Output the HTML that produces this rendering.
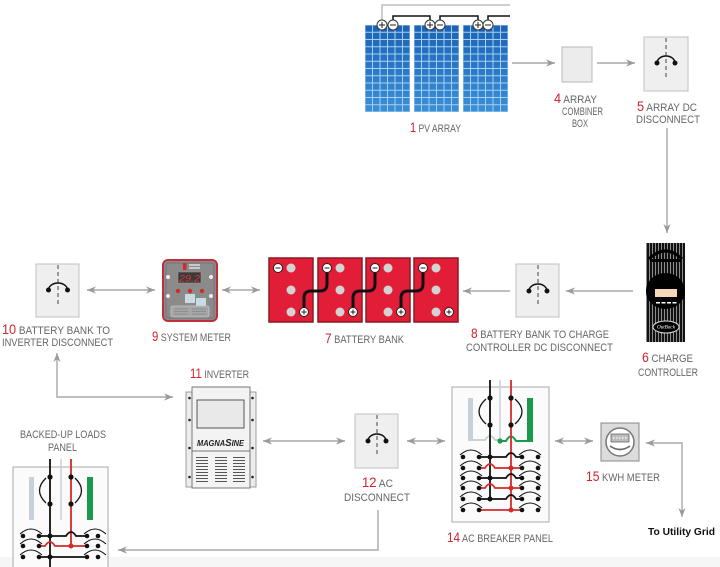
<!DOCTYPE html>
<html><head><meta charset="utf-8"><style>
html,body{margin:0;padding:0;background:#fff;}
svg{display:block;}
.l{font-family:"Liberation Sans",sans-serif;font-size:11px;fill:#666;}
.n{font-size:14px;fill:#d2232a;}
.ar{fill:none;stroke:#a8a8a8;stroke-width:1.4;}
</style></head><body>
<svg width="720" height="567" viewBox="0 0 720 567" xmlns="http://www.w3.org/2000/svg">
<defs>
<marker id="ah" viewBox="0 0 10 10" refX="10" refY="5" markerWidth="9" markerHeight="9" markerUnits="userSpaceOnUse" orient="auto-start-reverse"><path d="M0,1 L10,5 L0,9 L3,5 z" fill="#9a9a9a"/></marker>
<linearGradient id="pvg" x1="0" y1="0" x2="0" y2="1"><stop offset="0" stop-color="#1a62b6"/><stop offset="1" stop-color="#3a8fd8"/></linearGradient>
<pattern id="cell" width="7.5" height="7.25" patternUnits="userSpaceOnUse"><rect width="7.5" height="7.25" fill="none" stroke="#a9d0f2" stroke-width="1"/></pattern>
<pattern id="strp" width="3" height="10" patternUnits="userSpaceOnUse"><line x1="1.5" y1="0" x2="1.5" y2="10" stroke="#9a9a9a" stroke-width="0.9"/></pattern>
<pattern id="vent" width="20" height="3" patternUnits="userSpaceOnUse"><line x1="0" y1="1.5" x2="20" y2="1.5" stroke="#555" stroke-width="1"/></pattern>
</defs>
<rect width="720" height="567" fill="#fff"/>
<rect x="0" y="557" width="720" height="10" fill="#f6f6f6"/>

<!-- PV ARRAY -->
<path d="M382,20 V5 H510" fill="none" stroke="#bdbdbd" stroke-width="1.5"/>
<path d="M393,20 V16 H430 V20 M440,20 V16 H478 V20 M488,20 V16 H510" fill="none" stroke="#111" stroke-width="1.5"/>
<g transform="translate(365,25)"><rect width="45" height="87" fill="url(#pvg)"/><rect width="45" height="87" fill="url(#cell)"/></g>
<g transform="translate(414,25)"><rect width="45" height="87" fill="url(#pvg)"/><rect width="45" height="87" fill="url(#cell)"/></g>
<g transform="translate(463,25)"><rect width="45" height="87" fill="url(#pvg)"/><rect width="45" height="87" fill="url(#cell)"/></g>
<g fill="#fff" stroke="#333" stroke-width="1">
<circle cx="382" cy="25" r="5"/><circle cx="393" cy="25" r="5"/>
<circle cx="430" cy="25" r="5"/><circle cx="440" cy="25" r="5"/>
<circle cx="478" cy="25" r="5"/><circle cx="488" cy="25" r="5"/>
</g>
<path d="M379,25 H385 M382,22 V28 M390,25 H396 M427,25 H433 M430,22 V28 M437,25 H443 M475,25 H481 M478,22 V28 M485,25 H491" stroke="#222" stroke-width="1"/>
<text class="l" x="410" y="132" textLength="51" lengthAdjust="spacingAndGlyphs"><tspan class="n">1</tspan> PV ARRAY</text>

<!-- combiner -->
<rect x="562" y="47" width="30" height="35" fill="#ececec" stroke="#b8b8b8"/>
<text class="l" x="554" y="103" textLength="43" lengthAdjust="spacingAndGlyphs"><tspan class="n">4</tspan> ARRAY</text>
<text class="l" x="562" y="115" textLength="41" lengthAdjust="spacingAndGlyphs">COMBINER</text>
<text class="l" x="572" y="127" textLength="16" lengthAdjust="spacingAndGlyphs">BOX</text>

<!-- disconnect 5 -->
<rect x="644" y="37" width="44" height="54" fill="#efefef" stroke="#c0c0c0"/>
<line x1="666" y1="38" x2="666" y2="80" stroke="#444" stroke-width="1" stroke-dasharray="4,3"/>
<path d="M657,63 A9,7 0 0 1 675,63" fill="none" stroke="#111" stroke-width="1.5"/>
<circle cx="657" cy="63" r="2.5" fill="#111"/><circle cx="675" cy="63" r="2.5" fill="#111"/>
<text class="l" x="637" y="111" textLength="60" lengthAdjust="spacingAndGlyphs"><tspan class="n">5</tspan> ARRAY DC</text>
<text class="l" x="636" y="123" textLength="64" lengthAdjust="spacingAndGlyphs">DISCONNECT</text>

<!-- charge controller -->
<rect x="646" y="243" width="39" height="99" fill="#111"/>
<rect x="646" y="243" width="39" height="99" fill="url(#strp)"/>
<path d="M649,259 Q665.5,243 682,259" fill="none" stroke="#000" stroke-width="3"/>
<rect x="650" y="259" width="31" height="3" fill="#000"/>
<ellipse cx="665.5" cy="291" rx="19.5" ry="18" fill="#000"/>
<rect x="655" y="289" width="22" height="8" fill="#f6d7ba"/>
<g fill="#fff"><rect x="656" y="302" width="4" height="1.5"/><rect x="661.5" y="302" width="4" height="1.5"/><rect x="667" y="302" width="4" height="1.5"/><rect x="672.5" y="302" width="4" height="1.5"/></g>
<ellipse cx="666" cy="327" rx="13" ry="6" fill="#000" stroke="#ddd" stroke-width="1"/>
<text x="657" y="328.5" font-family="Liberation Serif,serif" font-size="5" font-style="italic" fill="#fff" textLength="18" lengthAdjust="spacingAndGlyphs">OutBack</text>
<text class="l" x="642" y="362" textLength="51" lengthAdjust="spacingAndGlyphs"><tspan class="n">6</tspan> CHARGE</text>
<text class="l" x="638" y="376" textLength="60" lengthAdjust="spacingAndGlyphs">CONTROLLER</text>

<!-- disconnect 8 -->
<rect x="516" y="264" width="43" height="53" fill="#efefef" stroke="#c0c0c0"/>
<line x1="538" y1="265" x2="538" y2="306" stroke="#444" stroke-width="1" stroke-dasharray="4,3"/>
<path d="M529,291 A9,7 0 0 1 547,291" fill="none" stroke="#111" stroke-width="1.5"/>
<circle cx="529" cy="291" r="2.5" fill="#111"/><circle cx="547" cy="291" r="2.5" fill="#111"/>
<text class="l" x="471" y="338" textLength="138" lengthAdjust="spacingAndGlyphs"><tspan class="n">8</tspan> BATTERY BANK TO CHARGE</text>
<text class="l" x="466" y="351" textLength="147" lengthAdjust="spacingAndGlyphs">CONTROLLER DC DISCONNECT</text>

<!-- batteries -->
<g fill="#e21d38" stroke="#8b1a22" stroke-width="1.5">
<rect x="269" y="258" width="44" height="64"/><rect x="318" y="258" width="44" height="64"/>
<rect x="366" y="258" width="44" height="64"/><rect x="414" y="258" width="44" height="64"/>
</g>
<g fill="#d3d3d3">
<circle cx="291" cy="268" r="4.5"/><circle cx="291" cy="290" r="4.5"/><circle cx="291" cy="312" r="4.5"/>
<circle cx="340" cy="268" r="4.5"/><circle cx="340" cy="290" r="4.5"/><circle cx="340" cy="312" r="4.5"/>
<circle cx="388" cy="268" r="4.5"/><circle cx="388" cy="290" r="4.5"/><circle cx="388" cy="312" r="4.5"/>
<circle cx="436" cy="268" r="4.5"/><circle cx="436" cy="290" r="4.5"/><circle cx="436" cy="312" r="4.5"/>
</g>
<g fill="none" stroke="#111" stroke-width="3">
<path d="M304,308 V298 Q304,291 311,291 H320 Q327,291 327,284 V272"/>
<path d="M353,308 V298 Q353,291 360,291 H368 Q375,291 375,284 V272"/>
<path d="M401,308 V298 Q401,291 408,291 H416 Q423,291 423,284 V272"/>
</g>
<g fill="#fff" stroke="#222" stroke-width="1">
<circle cx="278" cy="268" r="4.5"/><circle cx="327" cy="268" r="4.5"/><circle cx="375" cy="268" r="4.5"/><circle cx="423" cy="268" r="4.5"/>
<circle cx="304" cy="312" r="4.5"/><circle cx="353" cy="312" r="4.5"/><circle cx="401" cy="312" r="4.5"/><circle cx="449" cy="312" r="4.5"/>
</g>
<path d="M275.5,268 H280.5 M324.5,268 H329.5 M372.5,268 H377.5 M420.5,268 H425.5 M301.5,312 H306.5 M304,309.5 V314.5 M350.5,312 H355.5 M353,309.5 V314.5 M398.5,312 H403.5 M401,309.5 V314.5 M446.5,312 H451.5 M449,309.5 V314.5" stroke="#222" stroke-width="1"/>
<text class="l" x="325" y="343" textLength="79" lengthAdjust="spacingAndGlyphs"><tspan class="n">7</tspan> BATTERY BANK</text>

<!-- system meter -->
<rect x="163" y="260" width="54" height="61" rx="5" fill="#8b8b8b" stroke="#c0303a" stroke-width="2"/>
<rect x="166" y="263" width="48" height="55" rx="3" fill="none" stroke="#6e6e6e" stroke-width="0.8"/>
<rect x="183" y="263" width="3.5" height="7" fill="#d42a2a"/>
<path d="M189,265 H200 M189,268 H200" stroke="#f0f0f0" stroke-width="1.3"/>
<rect x="178" y="272" width="23" height="11" fill="#3a3a3a" stroke="#999" stroke-width="0.6"/>
<text x="179" y="281.5" font-family="Liberation Sans,sans-serif" font-size="9.5" font-style="italic" fill="#e03535" textLength="21" lengthAdjust="spacingAndGlyphs">29.2</text>
<g fill="#eee"><circle cx="168" cy="277" r="2"/><circle cx="211" cy="277" r="2"/><circle cx="168" cy="296" r="2"/><circle cx="211" cy="296" r="2"/></g>
<g fill="#d42a2a"><circle cx="178" cy="291" r="2.2"/><circle cx="190" cy="291" r="2.2"/><circle cx="202" cy="291" r="2.2"/></g>
<rect x="185" y="294" width="10" height="9" fill="#c9dce4"/>
<rect x="196" y="298" width="10" height="9" fill="#c9dce4"/>
<rect x="171" y="306" width="38" height="11" rx="2" fill="#a6a6a6" stroke="#c4c4c4" stroke-width="0.8"/>
<path d="M174,309 H188 M174,311.5 H188 M174,314 H188 M192,309 H206 M192,311.5 H206 M192,314 H206" stroke="#888" stroke-width="0.7"/>
<text class="l" x="152" y="341" textLength="79" lengthAdjust="spacingAndGlyphs"><tspan class="n">9</tspan> SYSTEM METER</text>

<!-- disconnect 10 -->
<rect x="36" y="264" width="43" height="53" fill="#efefef" stroke="#c0c0c0"/>
<line x1="58" y1="265" x2="58" y2="306" stroke="#444" stroke-width="1" stroke-dasharray="4,3"/>
<path d="M48.5,290 A9.5,7 0 0 1 67.5,290" fill="none" stroke="#111" stroke-width="1.5"/>
<circle cx="48.5" cy="290" r="2.5" fill="#111"/><circle cx="67.5" cy="290" r="2.5" fill="#111"/>
<text class="l" x="2" y="334" textLength="108" lengthAdjust="spacingAndGlyphs"><tspan class="n">10</tspan> BATTERY BANK TO</text>
<text class="l" x="2" y="346" textLength="111" lengthAdjust="spacingAndGlyphs">INVERTER DISCONNECT</text>

<!-- inverter -->
<rect x="186" y="392" width="7" height="95" fill="#ececec" stroke="#888" stroke-width="0.8"/>
<rect x="249" y="392" width="7" height="95" fill="#ececec" stroke="#888" stroke-width="0.8"/>
<rect x="192" y="387" width="58" height="101" fill="#f3f3f3" stroke="#777" stroke-width="1"/>
<g fill="#222"><circle cx="189.5" cy="398" r="1.3"/><circle cx="189.5" cy="420" r="1.3"/><circle cx="189.5" cy="448" r="1.3"/><circle cx="189.5" cy="477" r="1.3"/>
<circle cx="252.5" cy="398" r="1.3"/><circle cx="252.5" cy="420" r="1.3"/><circle cx="252.5" cy="448" r="1.3"/><circle cx="252.5" cy="477" r="1.3"/></g>
<rect x="197" y="400" width="47" height="28" fill="#e9e9e9" stroke="#555" stroke-width="1"/>
<text x="197" y="446" font-family="Liberation Sans,sans-serif" font-size="8" font-weight="bold" font-style="italic" fill="#222" textLength="47" lengthAdjust="spacingAndGlyphs">MAGNA<tspan font-size="10.5">S</tspan>INE</text>
<line x1="192" y1="451" x2="250" y2="451" stroke="#777" stroke-width="1"/>
<rect x="196" y="456" width="12" height="27" fill="url(#vent)"/>
<rect x="215" y="456" width="12" height="27" fill="url(#vent)"/>
<rect x="233" y="456" width="12" height="27" fill="url(#vent)"/>
<text class="l" x="190" y="378" textLength="59" lengthAdjust="spacingAndGlyphs"><tspan class="n">11</tspan> INVERTER</text>

<!-- AC disconnect 12 -->
<rect x="355" y="414" width="43" height="54" fill="#efefef" stroke="#c0c0c0"/>
<line x1="377" y1="415" x2="377" y2="457" stroke="#444" stroke-width="1" stroke-dasharray="4,3"/>
<path d="M368,441 A9,7 0 0 1 386,441" fill="none" stroke="#111" stroke-width="1.5"/>
<circle cx="368" cy="441" r="2.5" fill="#111"/><circle cx="386" cy="441" r="2.5" fill="#111"/>
<text class="l" x="362" y="487" textLength="31" lengthAdjust="spacingAndGlyphs"><tspan class="n">12</tspan> AC</text>
<text class="l" x="344" y="501" textLength="66" lengthAdjust="spacingAndGlyphs">DISCONNECT</text>

<!-- AC breaker panel 14 -->
<rect x="452" y="387" width="97" height="135" fill="#fbfbfb" stroke="#aaa" stroke-width="1"/>
<rect x="468" y="398" width="5" height="43" fill="#c7d1d9"/>
<rect x="527" y="398" width="6" height="44" fill="#1a9a4a"/>
<path d="M470,440 H485 Q490,432 495,440 H500" fill="none" stroke="#c7d1d9" stroke-width="2"/>
<line x1="500" y1="380" x2="500" y2="441" stroke="#c7d1d9" stroke-width="1.5"/>
<path d="M500,441 H506 Q511,432 516,441 H530" fill="none" stroke="#1a9a4a" stroke-width="2"/>
<circle cx="500" cy="441" r="2.6" fill="#1a9a4a"/>
<line x1="490" y1="380" x2="490" y2="499" stroke="#111" stroke-width="1.8"/>
<line x1="511" y1="380" x2="511" y2="510" stroke="#d42a2a" stroke-width="1.8"/>
<path d="M486,399 Q472,411.5 486,424 M515,399 Q529,411.5 515,424" fill="none" stroke="#111" stroke-width="1.3"/>
<g fill="#111"><circle cx="490" cy="398" r="2.6"/><circle cx="490" cy="425" r="2.6"/><circle cx="511" cy="398" r="2.6"/><circle cx="511" cy="425" r="2.6"/></g>
<g fill="none" stroke-width="1.8">
<path d="M479,457 H506 Q511,449 516,457 H522" stroke="#111"/>
<path d="M479,468 H485 Q490,460 495,468 H522" stroke="#d42a2a"/>
<path d="M479,478 H506 Q511,470 516,478 H522" stroke="#111"/>
<path d="M479,488 H485 Q490,480 495,488 H522" stroke="#d42a2a"/>
<path d="M479,499 H506 Q511,491 516,499 H522" stroke="#111"/>
<path d="M479,510 H522" stroke="#d42a2a"/>
</g>
<g fill="none" stroke="#111" stroke-width="1">
<path d="M460,455 Q471,445 482,455 M519,455 Q530,445 541,455"/>
<path d="M460,466 Q471,456 482,466 M519,466 Q530,456 541,466"/>
<path d="M460,476 Q471,466 482,476 M519,476 Q530,466 541,476"/>
<path d="M460,486 Q471,476 482,486 M519,486 Q530,476 541,486"/>
<path d="M460,497 Q471,487 482,497 M519,497 Q530,487 541,497"/>
<path d="M460,508 Q471,498 482,508 M519,508 Q530,498 541,508"/>
</g>
<g fill="#111">
<circle cx="463" cy="457" r="2.3"/><circle cx="479" cy="457" r="2.3"/><circle cx="522" cy="457" r="2.3"/><circle cx="538" cy="457" r="2.3"/>
<circle cx="463" cy="468" r="2.3"/><circle cx="479" cy="468" r="2.3"/><circle cx="522" cy="468" r="2.3"/><circle cx="538" cy="468" r="2.3"/>
<circle cx="463" cy="478" r="2.3"/><circle cx="479" cy="478" r="2.3"/><circle cx="522" cy="478" r="2.3"/><circle cx="538" cy="478" r="2.3"/>
<circle cx="463" cy="488" r="2.3"/><circle cx="479" cy="488" r="2.3"/><circle cx="522" cy="488" r="2.3"/><circle cx="538" cy="488" r="2.3"/>
<circle cx="463" cy="499" r="2.3"/><circle cx="479" cy="499" r="2.3"/><circle cx="522" cy="499" r="2.3"/><circle cx="538" cy="499" r="2.3"/>
<circle cx="463" cy="510" r="2.3"/><circle cx="479" cy="510" r="2.3"/><circle cx="522" cy="510" r="2.3"/><circle cx="538" cy="510" r="2.3"/>
<circle cx="490" cy="457" r="2.5"/><circle cx="490" cy="478" r="2.5"/><circle cx="490" cy="499" r="2.5"/>
</g>
<g fill="#d42a2a"><circle cx="511" cy="468" r="2.5"/><circle cx="511" cy="488" r="2.5"/><circle cx="511" cy="510" r="2.5"/></g>
<text class="l" x="447" y="542" textLength="106" lengthAdjust="spacingAndGlyphs"><tspan class="n">14</tspan> AC BREAKER PANEL</text>

<!-- KWH meter -->
<rect x="601" y="423" width="38" height="38" fill="#dcdcdc" stroke="#888" stroke-width="1"/>
<circle cx="620" cy="442" r="14" fill="#fff" stroke="#777" stroke-width="1.5"/>
<rect x="611" y="434" width="18" height="8" fill="#bdbdbd" stroke="#666" stroke-width="0.8"/>
<path d="M613,438 H627" stroke="#fff" stroke-width="1.2" stroke-dasharray="1.5,1.5"/>
<path d="M610,446 Q620,453 630,446" fill="none" stroke="#666" stroke-width="1.6"/>
<text class="l" x="586" y="481" textLength="74" lengthAdjust="spacingAndGlyphs"><tspan class="n">15</tspan> KWH METER</text>
<text x="648" y="535" font-family="Liberation Sans,sans-serif" font-size="10.5" font-weight="bold" fill="#111" textLength="67" lengthAdjust="spacingAndGlyphs">To Utility Grid</text>

<!-- backed-up loads panel -->
<text class="l" x="20" y="438" textLength="86" lengthAdjust="spacingAndGlyphs">BACKED-UP LOADS</text>
<text class="l" x="48" y="451" textLength="29" lengthAdjust="spacingAndGlyphs">PANEL</text>
<rect x="13" y="467" width="95" height="105" fill="#fbfbfb" stroke="#aaa" stroke-width="1"/>
<rect x="29" y="477" width="5" height="43" fill="#c7d1d9"/>
<rect x="87" y="477" width="6" height="43" fill="#1a9a4a"/>
<line x1="61" y1="459" x2="61" y2="520" stroke="#c7d1d9" stroke-width="1.5"/>
<line x1="50" y1="459" x2="50" y2="567" stroke="#111" stroke-width="1.8"/>
<line x1="71" y1="459" x2="71" y2="546" stroke="#d42a2a" stroke-width="1.8"/>
<path d="M46,478 Q33,490.5 46,503 M75,478 Q88,490.5 75,503" fill="none" stroke="#111" stroke-width="1.3"/>
<g fill="#111"><circle cx="50" cy="477" r="2.6"/><circle cx="71" cy="477" r="2.6"/><circle cx="50" cy="504" r="2.6"/><circle cx="71" cy="504" r="2.6"/></g>
<g fill="none" stroke-width="1.8">
<path d="M39,536 H66 Q71,528 76,536 H87" stroke="#111"/>
<path d="M39,546 H45 Q50,538 55,546 H87" stroke="#d42a2a"/>
<path d="M39,557 H87" stroke="#111"/>
</g>
<g fill="none" stroke="#111" stroke-width="1">
<path d="M20,534 Q31,524 42,534 M84,534 Q95,524 106,534"/>
<path d="M20,544 Q31,534 42,544 M84,544 Q95,534 106,544"/>
<path d="M20,555 Q31,545 42,555 M84,555 Q95,545 106,555"/>
</g>
<g fill="#111">
<circle cx="23" cy="536" r="2.3"/><circle cx="39" cy="536" r="2.3"/><circle cx="87" cy="536" r="2.3"/><circle cx="98" cy="536" r="2.3"/>
<circle cx="23" cy="546" r="2.3"/><circle cx="39" cy="546" r="2.3"/><circle cx="87" cy="546" r="2.3"/><circle cx="98" cy="546" r="2.3"/>
<circle cx="23" cy="557" r="2.3"/><circle cx="39" cy="557" r="2.3"/><circle cx="87" cy="557" r="2.3"/><circle cx="98" cy="557" r="2.3"/>
<circle cx="50" cy="536" r="2.5"/><circle cx="50" cy="557" r="2.5"/>
</g>
<circle cx="71" cy="546" r="2.5" fill="#d42a2a"/>

<!-- connectors -->
<path class="ar" d="M512,63 H555" marker-end="url(#ah)"/>
<path class="ar" d="M597,63 H635" marker-end="url(#ah)"/>
<path class="ar" d="M667,128 V233" marker-end="url(#ah)"/>
<path class="ar" d="M633,291 H566" marker-end="url(#ah)"/>
<path class="ar" d="M510,291 H463" marker-end="url(#ah)"/>
<path class="ar" d="M222,290 H260" marker-start="url(#ah)" marker-end="url(#ah)"/>
<path class="ar" d="M87,290 H155" marker-start="url(#ah)" marker-end="url(#ah)"/>
<path class="ar" d="M57,353 V397 H173" marker-start="url(#ah)" marker-end="url(#ah)"/>
<path class="ar" d="M263,441 H345" marker-start="url(#ah)" marker-end="url(#ah)"/>
<path class="ar" d="M407,441 H445" marker-start="url(#ah)" marker-end="url(#ah)"/>
<path class="ar" d="M555,441 H593" marker-start="url(#ah)" marker-end="url(#ah)"/>
<path class="ar" d="M646,443 H682 V517" marker-start="url(#ah)" marker-end="url(#ah)"/>
<path class="ar" d="M378,510 V550 H118" marker-end="url(#ah)"/>
</svg>
</body></html>
